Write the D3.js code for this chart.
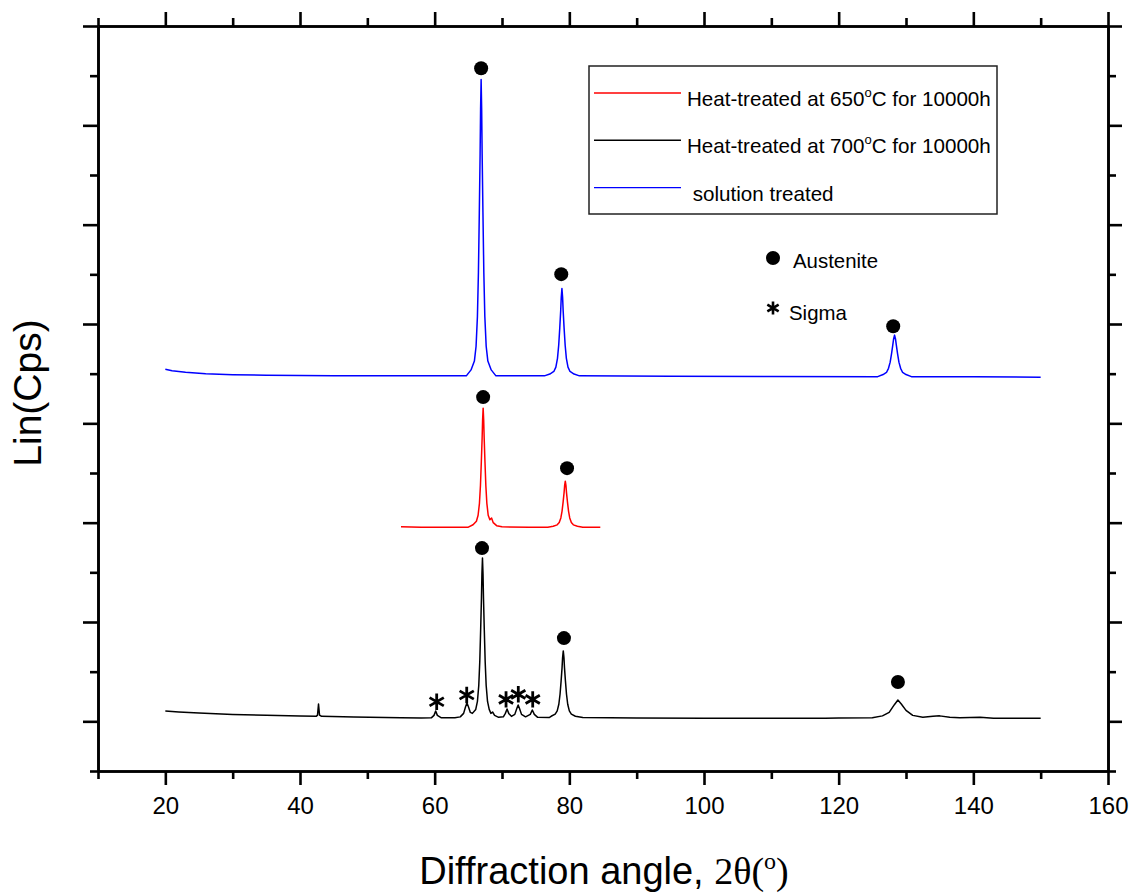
<!DOCTYPE html>
<html>
<head>
<meta charset="utf-8">
<script src="https://cdn.jsdelivr.net/npm/d3@7"></script>
<style>
  body { margin: 0; background: #fff; }
  text { font-family: Arial, "Liberation Sans", sans-serif; fill: #000; }
</style>
</head>
<body>
<script>
// [2theta, intensity] (curves are stacked with offsets)
let solutionTreated = [
  [20,3545],[21,3530],[23,3515],[26,3500],[30,3490],[35,3485],[45,3480],[55,3478],
  [64.7,3478],[65.4,3538],[65.9,3627],[66.15,3776],[66.35,4075],[66.5,4522],[66.63,5119],
  [66.75,5715],[66.82,6163],[66.9,6461],[66.98,6163],[67.05,5715],[67.17,5119],[67.3,4522],
  [67.45,4075],[67.65,3776],[67.9,3627],[68.4,3538],[69.1,3478],
  [76.3,3478],[77.1,3496],[77.7,3522],[78.0,3566],[78.24,3654],[78.42,3786],[78.58,3961],
  [78.72,4137],[78.8,4269],[78.9,4357],[79.0,4269],[79.08,4137],[79.22,3961],[79.38,3786],
  [79.56,3654],[79.8,3566],[80.1,3522],[80.7,3496],[81.5,3478],
  [95,3474],[110,3472],[125.8,3470],[126.6,3491],[127.1,3512],[127.4,3554],[127.65,3616],
  [127.85,3700],[128.03,3784],[128.15,3846],[128.3,3888],[128.45,3846],[128.57,3784],
  [128.75,3700],[128.95,3616],[129.2,3554],[129.5,3512],[130.0,3491],[130.8,3470],
  [140,3468],[150,3465]
];

let treated650 = [
  [55,1958],[58,1955],[62,1955],[65.0,1955],[65.7,1979],[66.2,2015],[66.45,2075],[66.65,2195],
  [66.8,2374],[66.93,2614],[67.05,2854],[67.12,3033],[67.2,3153],[67.28,3033],[67.35,2854],
  [67.47,2614],[67.6,2374],[67.75,2195],[67.95,2075],[68.2,2030],[68.45,2046],[68.7,2000],
  [69.2,1970],[70,1958],[74,1955],[76.8,1955],[77.6,1964],[78.2,1978],[78.5,2001],[78.74,2048],
  [78.92,2117],[79.08,2210],[79.22,2302],[79.3,2372],[79.4,2418],[79.5,2372],[79.58,2302],
  [79.72,2210],[79.88,2117],[80.06,2048],[80.3,2001],[80.6,1978],[81.2,1964],[82,1955],[84.6,1953]
];

let treated700 = [
  [20,104],[22,95],[25,85],[30,70],[35,60],[40,53],[42.4,50],[42.6,62],[42.75,174],[42.9,62],
  [43.2,50],[48,43],[55,35],[58,33],[59.5,35],[59.9,60],[60.15,104],[60.4,60],[61,35],[63,35],
  [63.8,45],[64.3,80],[64.6,150],[64.8,184],[65.0,150],[65.3,90],[65.6,80],[66.1,120],
  [66.35,200],[66.55,361],[66.7,602],[66.83,923],[66.95,1244],[67.02,1485],[67.1,1645],
  [67.18,1485],[67.25,1244],[67.37,923],[67.5,602],[67.65,361],[67.85,200],[68.1,120],
  [68.35,80],[68.6,94],[68.9,60],[69.5,40],[70.2,45],[70.5,80],[70.75,124],[71.0,80],[71.4,50],
  [71.9,70],[72.2,130],[72.4,164],[72.6,130],[72.9,70],[73.5,45],[74.2,70],[74.5,114],[74.8,70],
  [75.3,40],[77,38],[77.3,51],[77.9,72],[78.2,105],[78.44,172],[78.62,273],[78.78,407],
  [78.92,541],[79.0,642],[79.1,709],[79.2,642],[79.28,541],[79.42,407],[79.58,273],[79.76,172],
  [80.0,105],[80.3,72],[80.9,51],[82,38],[90,33],[100,30],[110,30],[118,30],[120,33],[125,35],
  [126.5,55],[127.5,90],[128.3,170],[128.8,214],[129.3,175],[130,110],[131,60],[132.5,40],
  [134,50],[135,55],[136.5,42],[138,35],[141,40],[143,32],[150,30]
];

// phase markers [2theta, intensity]
let austeniteMarks = [
  [67.03,1744],[79.2,838],[128.8,396],
  [67.2,3264],[79.66,2549],
  [66.9,6574],[78.8,4502],[128.1,3978]
];
let sigmaMarks = [[60.3,197],[64.76,265],[70.6,221],[72.42,272],[74.56,221]];

let seriesNames = ["Heat-treated at 650", "Heat-treated at 700", " solution treated"];
let seriesColors = ["#ff0000", "#000000", "#0000ff"];

let xMajor = [20,40,60,80,100,120,140,160];
let xMinor = [10,30,50,70,90,110,130,150];
let yMajor = [0,1000,2000,3000,4000,5000,6000,7000];
let yMinor = [-500,500,1500,2500,3500,4500,5500,6500];

let width = 1141, height = 896;
let mLeft = 98, mRight = 1108, mTop = 26, mBottom = 771;

let svg = d3.select("body").append("svg").attr("width", width).attr("height", height);

let x = d3.scaleLinear().domain([10,160]).range([mLeft,mRight]);
let y = d3.scaleLinear().domain([-500,7000]).range([mBottom,mTop]);

let line = d3.line().x(d=>x(d[0])).y(d=>y(d[1]));

[treated700, treated650, solutionTreated].forEach((s,i)=>{
	let col = [seriesColors[1], seriesColors[0], seriesColors[2]][i];
	svg.append("path").datum(s)
		.attr("d", line)
		.attr("fill", "none")
		.attr("stroke", col)
		.attr("stroke-width", 1.5)
		.attr("stroke-linejoin", "round");
});

svg.selectAll("circle.aus").data(austeniteMarks).enter()
	.append("circle")
	.attr("cx", d=>x(d[0]))
	.attr("cy", d=>y(d[1]))
	.attr("r", 7)
	.attr("fill", "#000");

let star = d3.symbol().type(d3.symbolAsterisk).size(190);
svg.selectAll("path.sig").data(sigmaMarks).enter()
	.append("path")
	.attr("d", star)
	.attr("transform", d=>`translate(${x(d[0])},${y(d[1])})`)
	.attr("fill", "none")
	.attr("stroke", "#000")
	.attr("stroke-width", 2.8);

// axes: four sides, major and minor ticks
function styleAxis(g){
	g.selectAll("path.domain").attr("stroke-width", 2.6).attr("stroke", "#000");
	g.selectAll(".tick line").attr("stroke-width", 2.6).attr("stroke", "#000");
}

svg.append("g").attr("transform", `translate(0,${mBottom})`)
	.call(d3.axisBottom(x).tickValues(xMajor).tickSize(14).tickSizeOuter(0).tickPadding(12))
	.call(styleAxis)
	.call(g=>g.selectAll("text").attr("font-size", 24).attr("font-family", "Arial, 'Liberation Sans', sans-serif"));
svg.append("g").attr("transform", `translate(0,${mBottom})`)
	.call(d3.axisBottom(x).tickValues(xMinor).tickSize(8).tickSizeOuter(0).tickFormat(""))
	.call(styleAxis);
svg.append("g").attr("transform", `translate(0,${mTop})`)
	.call(d3.axisTop(x).tickValues(xMajor).tickSize(14).tickSizeOuter(0).tickFormat(""))
	.call(styleAxis);
svg.append("g").attr("transform", `translate(0,${mTop})`)
	.call(d3.axisTop(x).tickValues(xMinor).tickSize(8).tickSizeOuter(0).tickFormat(""))
	.call(styleAxis);
svg.append("g").attr("transform", `translate(${mLeft},0)`)
	.call(d3.axisLeft(y).tickValues(yMajor).tickSize(15).tickSizeOuter(0).tickFormat(""))
	.call(styleAxis);
svg.append("g").attr("transform", `translate(${mLeft},0)`)
	.call(d3.axisLeft(y).tickValues(yMinor).tickSize(8).tickSizeOuter(0).tickFormat(""))
	.call(styleAxis);
svg.append("g").attr("transform", `translate(${mRight},0)`)
	.call(d3.axisRight(y).tickValues(yMajor).tickSize(14).tickSizeOuter(0).tickFormat(""))
	.call(styleAxis);
svg.append("g").attr("transform", `translate(${mRight},0)`)
	.call(d3.axisRight(y).tickValues(yMinor).tickSize(8).tickSizeOuter(0).tickFormat(""))
	.call(styleAxis);

// axis titles
let xt = svg.append("text")
	.attr("x", 604).attr("y", 884)
	.attr("text-anchor", "middle")
	.attr("font-size", 38);
xt.append("tspan").text("Diffraction angle, ");
xt.append("tspan").attr("font-family", "'Liberation Serif', 'Times New Roman', serif").text("2\u03b8(");
xt.append("tspan").attr("font-family", "'Liberation Serif', 'Times New Roman', serif")
	.attr("font-size", 24).attr("dy", -15).text("o");
xt.append("tspan").attr("font-family", "'Liberation Serif', 'Times New Roman', serif")
	.attr("dy", 15).text(")");

svg.append("text")
	.attr("transform", "translate(41,393) rotate(-90)")
	.attr("text-anchor", "middle")
	.attr("font-size", 39)
	.text("Lin(Cps)");

// legend box
let lg = svg.append("g");
lg.append("rect")
	.attr("x", 589).attr("y", 66).attr("width", 408).attr("height", 148)
	.attr("fill", "#fff").attr("stroke", "#222").attr("stroke-width", 1.5);

let legendOrder = [0,1,2];
legendOrder.forEach((k,i)=>{
	let ly = 93 + i*47.3;
	lg.append("line")
		.attr("x1", 594).attr("x2", 681).attr("y1", ly).attr("y2", ly)
		.attr("stroke", seriesColors[k]).attr("stroke-width", 1.4);
	let t = lg.append("text").attr("x", 687).attr("y", ly + 13).attr("font-size", 20.6)
		.attr("xml:space", "preserve");
	if(k < 2){
		t.append("tspan").text(seriesNames[k]);
		t.append("tspan").attr("font-size", 13).attr("dy", -9).text("o");
		t.append("tspan").attr("dy", 9).text("C for 10000h");
	} else {
		t.text(seriesNames[k]);
	}
});

// phase key
svg.append("circle").attr("cx", 773).attr("cy", 258).attr("r", 7).attr("fill", "#000");
svg.append("text").attr("x", 793).attr("y", 268).attr("font-size", 20.4).text("Austenite");
svg.append("path")
	.attr("d", d3.symbol().type(d3.symbolAsterisk).size(120)())
	.attr("transform", "translate(773,308)")
	.attr("fill", "none").attr("stroke", "#000").attr("stroke-width", 2.6);
svg.append("text").attr("x", 789).attr("y", 320).attr("font-size", 20.4).text("Sigma");
</script>
</body>
</html>
